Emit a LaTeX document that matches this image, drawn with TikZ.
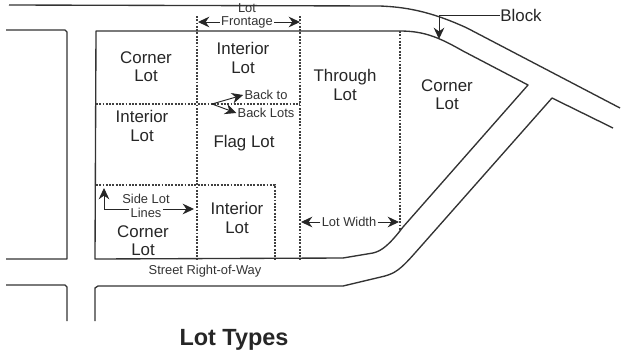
\documentclass[tikz,border=0pt]{standalone}
\usepackage{fontspec}
\setmainfont{Liberation Sans}
\usetikzlibrary{arrows.meta, positioning}

\begin{document}
\begin{tikzpicture}[
    x=0.03cm, y=-0.03cm,
    road/.style={draw=black!80, line width=1.15pt, line join=round},
    lotline/.style={draw=black!75, line width=1.1pt, dash pattern=on 1.6pt off 1.2pt},
    arrow/.style={black!85, line width=0.8pt, -{Stealth[length=3.4mm, width=3.2mm]}},
    lot/.style={font=\fontsize{14.4}{15.5}\selectfont, align=center, text=black!85, inner sep=0pt},
    lbl/.style={font=\fontsize{11}{12}\selectfont, align=center, text=black!80, inner sep=1pt}
]
\useasboundingbox (0,0) rectangle (621,354);
% roads
\draw[road] (9,5) -- (380,6) .. controls (405,7) and (430,11) .. (467,28) -- (620,108);
\draw[road] (96,31) -- (400,31) .. controls (425,31) and (440,38) .. (463,51) -- (528,85) -- (403,227) .. controls (390,244) and (382,251) .. (373,253) -- (343,258) -- (95,259) -- cycle;
\draw[road] (613,128) -- (552,98) -- (415,253) .. controls (400,270) and (395,273) .. (385,276) -- (343,286) -- (98,286) -- (95,288) -- (95,321);
\draw[road] (6,30) -- (65,30) -- (67,32) -- (67,259) -- (6,259);
\draw[road] (6,285) -- (65,285) -- (67,287) -- (67,321);
% lot lines
\draw[lotline] (197,16) -- (197,259);
\draw[lotline] (300,16) -- (300,259);
\draw[lotline] (400,31) -- (400,230);
\draw[lotline] (96,104) -- (300,104);
\draw[lotline] (96,185) -- (275,185) -- (275,259);
% labels
\node[lot] (corner1) at (146,67) {Corner\\Lot};
\node[lot] (interior1) at (243,58) {Interior\\Lot};
\node[lot] (interior2) at (142,126) {Interior\\Lot};
\node[lot] (flag) at (244,143) {Flag Lot};
\node[lot] (through) at (345,85) {Through\\Lot};
\node[lot] (corner2) at (447,95) {Corner\\Lot};
\node[lot] (interior3) at (237,218) {Interior\\Lot};
\node[lot] (corner3) at (143,241) {Corner\\Lot};
\node[lbl] (lotword) at (247,8) {Lot};
\node[lbl] (frontage) at (247,22) {Frontage};
\node[lbl] (backto) at (266,95) {Back to};
\node[lbl] (backlots) at (266,113) {Back Lots};
\node[lbl] (sidelot) at (146,199) {Side Lot};
\node[lbl] (lines) at (146,213) {Lines};
\node[lbl] (lotwidth) at (349,222) {Lot Width};
\node[lbl] (row) at (205,271) {Street Right-of-Way};
\node[font=\fontsize{14.4}{15.5}\selectfont, text=black!85, inner sep=0pt] (block) at (521,15) {Block};
\node[font=\bfseries\fontsize{20}{22}\selectfont, text=black!85, inner sep=0pt] (title) at (234,340) {Lot Types};
% arrows
\coordinate (fl) at (198,22);
\coordinate (fr) at (300,22);
\draw[arrow] (frontage.west) -- (fl);
\draw[arrow] (frontage.east) -- (fr);
\coordinate (bk) at (212,104);
\draw[arrow] (bk) -- (backto.west);
\draw[arrow] (bk) -- (backlots.west);
\coordinate (blk) at (439,15);
\coordinate (blktip) at (439,39);
\draw[black!85, line width=0.8pt] (block.west) -- (blk);
\draw[arrow] (blk) -- (blktip);
\coordinate (sl) at (104,188);
\coordinate (sr) at (194,209);
\draw[arrow] (lines.west |- sr) -| (sl);
\draw[arrow] (lines.east |- sr) -- (sr);
\coordinate (wl) at (301,222);
\coordinate (wr) at (399,222);
\draw[arrow] (lotwidth.west) -- (wl);
\draw[arrow] (lotwidth.east) -- (wr);
\end{tikzpicture}
\end{document}
